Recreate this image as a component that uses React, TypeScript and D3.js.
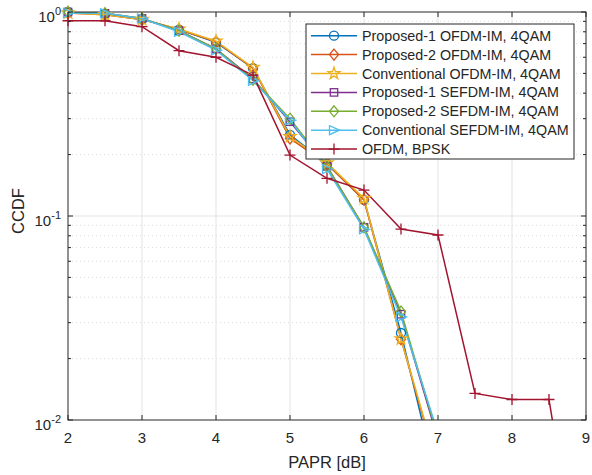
import React, { useRef, useEffect } from 'react';
import * as d3 from 'd3';

const papr = [2, 2.5, 3, 3.5, 4, 4.5, 5, 5.5, 6, 6.5, 7, 7.5, 8, 8.5, 9];

const propOfdm1 = [1.0, 0.975, 0.92, 0.82, 0.71, 0.53, 0.25, 0.18, 0.12, 0.0267, 0.0047];
const propOfdm2 = [0.99, 0.97, 0.92, 0.82, 0.715, 0.53, 0.24, 0.18, 0.12, 0.0249, 0.0057];
const convOfdm = [0.99, 0.97, 0.92, 0.825, 0.72, 0.535, 0.245, 0.182, 0.122, 0.025, 0.0059];
const propSefdm1 = [1.0, 0.985, 0.93, 0.81, 0.66, 0.47, 0.29, 0.175, 0.088, 0.033, 0.008];
const propSefdm2 = [1.0, 0.985, 0.93, 0.81, 0.66, 0.465, 0.3, 0.175, 0.088, 0.034, 0.0082];
const convSefdm = [0.99, 0.985, 0.93, 0.8, 0.65, 0.46, 0.295, 0.17, 0.086, 0.032, 0.0086];
const ofdmBpsk = [0.906, 0.906, 0.847, 0.646, 0.6, 0.49, 0.199, 0.153, 0.134, 0.0863, 0.0807, 0.0135, 0.0126, 0.0126, 0.001];

const seriesNames = [
  'Proposed-1 OFDM-IM, 4QAM',
  'Proposed-2 OFDM-IM, 4QAM',
  'Conventional OFDM-IM, 4QAM',
  'Proposed-1 SEFDM-IM, 4QAM',
  'Proposed-2 SEFDM-IM, 4QAM',
  'Conventional SEFDM-IM, 4QAM',
  'OFDM, BPSK',
];
const seriesColors = ['#0072BD', '#D95319', '#EDB120', '#7E2F8E', '#77AC30', '#4DBEEE', '#A2142F'];
const seriesMarkers = ['circle', 'diamond', 'star', 'square', 'diamond', 'triangle', 'plus'];
const seriesValues = [propOfdm1, propOfdm2, convOfdm, propSefdm1, propSefdm2, convSefdm, ofdmBpsk];

const xTicks = [2, 3, 4, 5, 6, 7, 8, 9];
const yDecades = [1, 0.1, 0.01];
const yExps = ['0', '-1', '-2'];

const W = 592, H = 475;
const left = 68, right = 586, top = 12, bottom = 420;
const font = '"Liberation Sans", Arial, sans-serif';

function drawMarker(g: any, type: string, cx: number, cy: number, color: string) {
  const r = 4.5;
  if (type === 'circle') {
    g.append('circle').attr('cx', cx).attr('cy', cy).attr('r', r)
      .attr('fill', 'none').attr('stroke', color).attr('stroke-width', 1.3);
  } else if (type === 'diamond') {
    g.append('path').attr('d', `M${cx},${cy - r - 1}L${cx + r},${cy}L${cx},${cy + r + 1}L${cx - r},${cy}Z`)
      .attr('fill', 'none').attr('stroke', color).attr('stroke-width', 1.3);
  } else if (type === 'square') {
    g.append('rect').attr('x', cx - r + 0.8).attr('y', cy - r + 0.8).attr('width', 2 * r - 1.6).attr('height', 2 * r - 1.6)
      .attr('fill', 'none').attr('stroke', color).attr('stroke-width', 1.3);
  } else if (type === 'triangle') {
    g.append('path').attr('d', `M${cx + r + 1},${cy}L${cx - r},${cy - r}L${cx - r},${cy + r}Z`)
      .attr('fill', 'none').attr('stroke', color).attr('stroke-width', 1.3);
  } else if (type === 'star') {
    const star = d3.symbol().type(d3.symbolStar).size(45);
    g.append('path').attr('d', star()).attr('transform', `translate(${cx},${cy})`)
      .attr('fill', 'none').attr('stroke', color).attr('stroke-width', 1.3);
  } else if (type === 'plus') {
    g.append('path').attr('d', `M${cx - r - 1},${cy}H${cx + r + 1}M${cx},${cy - r - 1}V${cy + r + 1}`)
      .attr('stroke', color).attr('stroke-width', 1.3);
  }
}

const App = () => {
  const svgRef = useRef<SVGSVGElement>(null);

  useEffect(() => {
    const svg = d3.select(svgRef.current);
    svg.selectAll('*').remove();

    const x = d3.scaleLinear().domain([2, 9]).range([left, right]);
    const y = d3.scaleLog().domain([0.01, 1]).range([bottom, top]);

    svg.append('rect').attr('width', W).attr('height', H).attr('fill', '#fff');

    svg.append('defs').append('clipPath').attr('id', 'plotclip')
      .append('rect').attr('x', left).attr('y', top).attr('width', right - left).attr('height', bottom - top);

    // minor grid (dotted)
    const minors: number[] = [];
    [0.01, 0.1].forEach(d => { for (let k = 2; k <= 9; k++) minors.push(d * k); });
    svg.append('g').selectAll('line').data(minors).enter().append('line')
      .attr('x1', left).attr('x2', right).attr('y1', d => y(d)).attr('y2', d => y(d))
      .attr('stroke', '#d0d0d0').attr('stroke-width', 0.8).attr('stroke-dasharray', '1,3');

    // major grid
    const grid = svg.append('g');
    grid.selectAll('.gx').data(xTicks.slice(1, -1)).enter().append('line')
      .attr('x1', d => x(d)).attr('x2', d => x(d)).attr('y1', top).attr('y2', bottom)
      .attr('stroke', '#e3e3e3').attr('stroke-width', 1);
    grid.selectAll('.gy').data([0.1]).enter().append('line')
      .attr('x1', left).attr('x2', right).attr('y1', d => y(d)).attr('y2', d => y(d))
      .attr('stroke', '#e3e3e3').attr('stroke-width', 1);

    // series lines (clipped), markers drawn when in range
    const plot = svg.append('g').attr('clip-path', 'url(#plotclip)');
    const line = d3.line<number>().x((d, i) => x(papr[i])).y(d => y(d));
    seriesValues.forEach((vals, s) => {
      plot.append('path').datum(vals).attr('d', line)
        .attr('fill', 'none').attr('stroke', seriesColors[s]).attr('stroke-width', 1.5);
    });

    // axes box
    const axisColor = '#262626';
    svg.append('rect').attr('x', left).attr('y', top).attr('width', right - left).attr('height', bottom - top)
      .attr('fill', 'none').attr('stroke', axisColor).attr('stroke-width', 1);

    const marks = svg.append('g');
    seriesValues.forEach((vals, s) => {
      const mg = marks.append('g');
      vals.forEach((v, i) => {
        if (v >= 0.01) drawMarker(mg, seriesMarkers[s], x(papr[i]), y(v), seriesColors[s]);
      });
    });

    // ticks
    const tk = svg.append('g').attr('stroke', axisColor).attr('stroke-width', 1);
    xTicks.forEach(t => {
      tk.append('line').attr('x1', x(t)).attr('x2', x(t)).attr('y1', bottom).attr('y2', bottom - 5);
      tk.append('line').attr('x1', x(t)).attr('x2', x(t)).attr('y1', top).attr('y2', top + 5);
    });
    yDecades.forEach(t => {
      tk.append('line').attr('x1', left).attr('x2', left + 5).attr('y1', y(t)).attr('y2', y(t));
      tk.append('line').attr('x1', right).attr('x2', right - 5).attr('y1', y(t)).attr('y2', y(t));
    });
    minors.forEach(t => {
      tk.append('line').attr('x1', left).attr('x2', left + 3).attr('y1', y(t)).attr('y2', y(t));
      tk.append('line').attr('x1', right).attr('x2', right - 3).attr('y1', y(t)).attr('y2', y(t));
    });

    // tick labels
    svg.append('g').selectAll('text').data(xTicks).enter().append('text')
      .attr('x', d => x(d)).attr('y', bottom + 23).attr('text-anchor', 'middle')
      .attr('font-family', font).attr('font-size', 15).attr('fill', axisColor)
      .text(d => d);
    yDecades.forEach((d, i) => {
      const t = svg.append('text').attr('x', left - 7).attr('y', y(d) + 9.5).attr('text-anchor', 'end')
        .attr('font-family', font).attr('font-size', 15).attr('fill', axisColor);
      t.append('tspan').text('10');
      t.append('tspan').attr('dy', -7).attr('font-size', 11).text(yExps[i]);
    });

    svg.append('text').attr('x', (left + right) / 2).attr('y', 468).attr('text-anchor', 'middle')
      .attr('font-family', font).attr('font-size', 16.5).attr('fill', axisColor).text('PAPR [dB]');
    svg.append('text').attr('transform', `translate(24,211) rotate(-90)`)
      .attr('text-anchor', 'middle')
      .attr('font-family', font).attr('font-size', 16.5).attr('fill', axisColor).text('CCDF');

    // legend
    const lg = svg.append('g');
    lg.append('rect').attr('x', 306).attr('y', 24).attr('width', 268).attr('height', 135)
      .attr('fill', '#fff').attr('stroke', axisColor).attr('stroke-width', 1);
    seriesNames.forEach((name, s) => {
      const ly = 35.7 + s * 18.9;
      lg.append('line').attr('x1', 311).attr('x2', 357).attr('y1', ly).attr('y2', ly)
        .attr('stroke', seriesColors[s]).attr('stroke-width', 1.5);
      drawMarker(lg, seriesMarkers[s], 334, ly, seriesColors[s]);
      lg.append('text').attr('x', 362).attr('y', ly + 5).attr('font-family', font).attr('font-size', 14.3)
        .attr('fill', axisColor).text(name);
    });
  }, []);

  return (
    <svg ref={svgRef} width={W} height={H} style={{ position: 'absolute', left: 0, top: 0 }}></svg>
  );
};

export default App;
